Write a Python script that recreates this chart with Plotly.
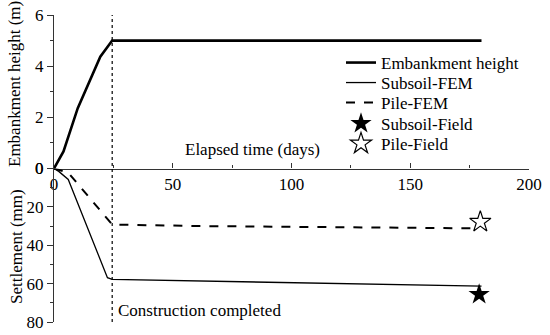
import plotly.graph_objects as go

# ---- data ----
emb_days = [0, 4, 10, 19.5, 24.5, 180]
emb_height = [0, 0.67, 2.36, 4.37, 5.0, 5.0]

subsoil_fem_days = [0, 2, 6, 22.5, 24.5, 61.5, 180]
subsoil_fem_settle = [0, 1.5, 5.7, 56.9, 57.8, 58.6, 61.3]

pile_fem_days = [0, 2, 6, 24.5, 61.5, 179]
pile_fem_settle = [0, 0.8, 2.2, 29.2, 30.0, 31.2]

subsoil_field_days = [179]
subsoil_field_settle = [65.6]

pile_field_days = [179.5]
pile_field_settle = [27.8]

construction_end = 24.5

x_ticks = [0, 50, 100, 150, 200]
h_ticks = [0, 2, 4, 6]
s_ticks = [0, 20, 40, 60, 80]

FONT = "Liberation Serif"
AX = "#333333"

fig = go.Figure()
fig.add_trace(go.Scatter(x=emb_days, y=emb_height, mode="lines", name="Embankment height",
                         line=dict(color="black", width=2.6), xaxis="x", yaxis="y", legend="legend"))
fig.add_trace(go.Scatter(x=subsoil_fem_days, y=subsoil_fem_settle, mode="lines", name="Subsoil-FEM",
                         line=dict(color="black", width=1.3), xaxis="x", yaxis="y2", legend="legend2"))
fig.add_trace(go.Scatter(x=pile_fem_days, y=pile_fem_settle, mode="lines", name="Pile-FEM",
                         line=dict(color="black", width=2, dash="dash"), xaxis="x", yaxis="y2",
                         legend="legend3"))
fig.add_trace(go.Scatter(x=subsoil_field_days, y=subsoil_field_settle, mode="markers", name="Subsoil-Field",
                         marker=dict(symbol="star", size=16, color="black"), xaxis="x", yaxis="y2",
                         legend="legend4"))
fig.add_trace(go.Scatter(x=pile_field_days, y=pile_field_settle, mode="markers", name="Pile-Field",
                         marker=dict(symbol="star-open", size=16, color="black", line=dict(width=1.2)),
                         xaxis="x", yaxis="y2", legend="legend5"))

fig.add_shape(type="line", xref="x", yref="paper", x0=construction_end, x1=construction_end,
              y0=0, y1=1, line=dict(color="black", width=1.2, dash="dot"))

txt_font = dict(family=FONT, size=17, color="black")
fig.add_annotation(text="Elapsed time (days)", xref="x", yref="y", x=83.5, y=0.75,
                   xanchor="center", yanchor="middle", showarrow=False, font=txt_font)
fig.add_annotation(text="Construction completed", xref="x", yref="y2", x=construction_end + 1.5, y=74,
                   xanchor="left", yanchor="middle", showarrow=False, font=txt_font)

# axis titles (placed as rotated annotations)
PLOT_L, PLOT_W, PLOT_B, PLOT_H = 54, 475, 13, 307
fig.add_annotation(text="Embankment height (m)", xref="paper", yref="paper",
                   x=(14 - PLOT_L) / PLOT_W, y=(322 - 84) / PLOT_H, textangle=-90,
                   xanchor="center", yanchor="middle", showarrow=False, font=txt_font)
fig.add_annotation(text="Settlement (mm)", xref="paper", yref="paper",
                   x=(16 - PLOT_L) / PLOT_W, y=(322 - 247) / PLOT_H, textangle=-90,
                   xanchor="center", yanchor="middle", showarrow=False, font=txt_font)

legend_rows_px = [63, 83, 103, 124, 144]
legend_x = (341 - PLOT_L) / PLOT_W
legend_common = dict(x=legend_x, xanchor="left", yanchor="middle", bgcolor="rgba(0,0,0,0)",
                     borderwidth=0, font=txt_font, itemwidth=30)
legends = {}
for i, py in enumerate(legend_rows_px):
    key = "legend" if i == 0 else f"legend{i + 1}"
    legends[key] = dict(legend_common, y=(322 - py) / PLOT_H)

fig.update_layout(
    width=550, height=335,
    margin=dict(l=54, r=21, t=15, b=13, autoexpand=False),
    paper_bgcolor="white", plot_bgcolor="white",
    font=dict(family=FONT, size=17, color="black"),
    showlegend=True,
    hovermode=False,
    xaxis=dict(domain=[0, 1], range=[0, 200], anchor="y", side="bottom", automargin=False,
               tickvals=x_ticks, ticks="inside", ticklen=5, tickcolor=AX, tickwidth=1,
               showline=True, linecolor=AX, linewidth=1.2, showgrid=False, zeroline=False,
               minor=dict(dtick=25, tick0=0, ticks="inside", ticklen=3, tickcolor=AX, showgrid=False),
               tickfont=txt_font),
    yaxis=dict(domain=[0.5, 1], range=[0, 6], anchor="x", tickvals=h_ticks, automargin=False,
               ticks="outside", ticklen=6, tickcolor=AX, showline=True, linecolor=AX, linewidth=1.2,
               showgrid=False, zeroline=False,
               minor=dict(dtick=1, tick0=0, ticks="outside", ticklen=3, tickcolor=AX, showgrid=False),
               tickfont=txt_font),
    yaxis2=dict(domain=[0, 0.5], range=[80, 0], anchor="x", tickvals=s_ticks, automargin=False,
                ticks="outside", ticklen=6, tickcolor=AX, showline=True, linecolor=AX, linewidth=1.2,
                showgrid=False, zeroline=False,
                minor=dict(dtick=10, tick0=0, ticks="outside", ticklen=3, tickcolor=AX, showgrid=False),
                tickfont=txt_font),
    **legends,
)

fig.write_html("out.html", config={"displayModeBar": False},
               post_script="document.documentElement.style.margin='0';"
                           "document.body.style.margin='0';document.body.style.overflow='hidden';")
